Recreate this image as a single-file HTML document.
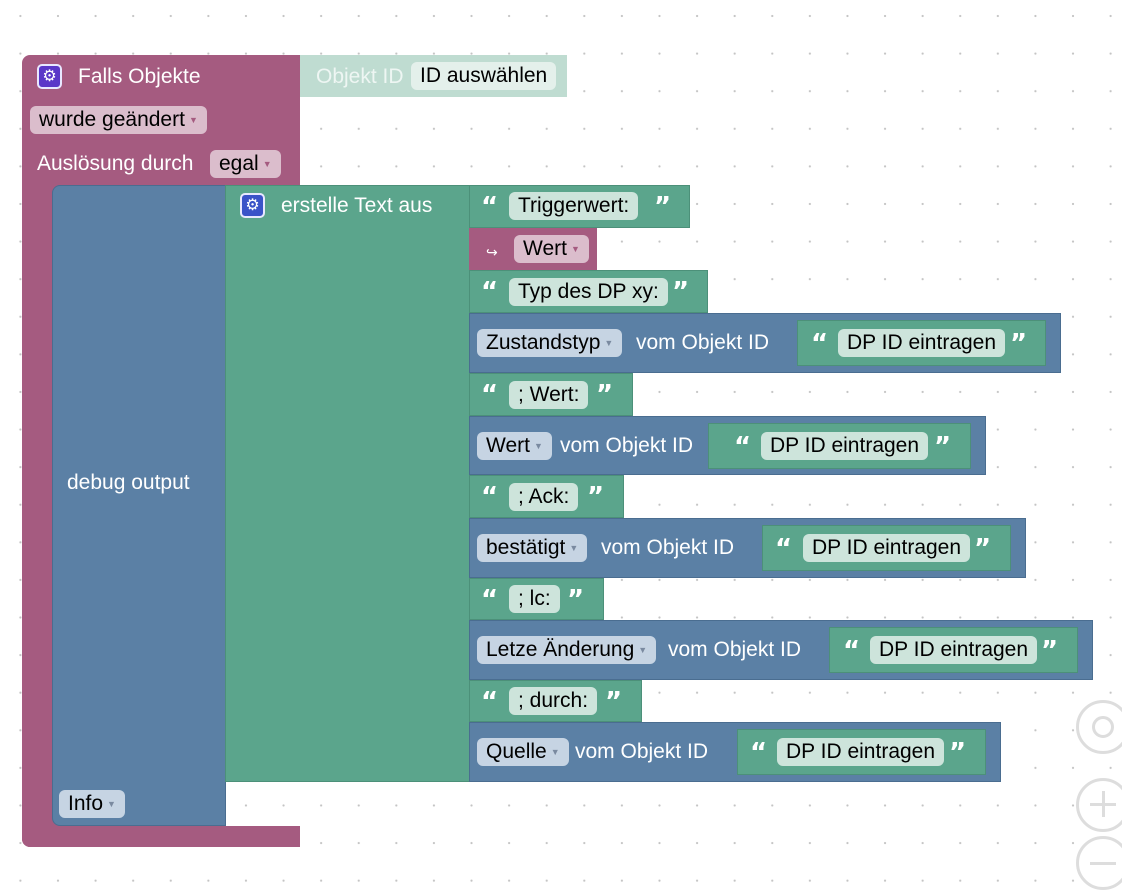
<!DOCTYPE html>
<html><head><meta charset="utf-8"><style>
body{margin:0;width:1122px;height:875px;overflow:hidden;background:#fff;
background-image:radial-gradient(circle,#c4c4c4 0.9px,transparent 1.3px);background-size:37.6px 37.6px;background-position:1.6px -2.8px;
font-family:"Liberation Sans",sans-serif;font-size:21px;position:relative}
.b{position:absolute;box-sizing:border-box}
.p{background:#a55b80}.bl{background:#5b80a5;border:1px solid #4a6d90}.g{background:#5ba58c;border:1px solid #4c9079}
.t{position:absolute;color:#fff;white-space:nowrap;line-height:24px}
.f{position:absolute;height:28px;line-height:28px;border-radius:6px;padding:0 9px;color:#000;white-space:nowrap;box-sizing:border-box}
.fp{background:#dbbdcc}.fg{background:#cde4db}.fb{background:#c6d4e3}
.ar{font-size:9px;color:#7a8aa0;margin-left:4px;vertical-align:middle}
.q{position:absolute;color:#fff;font-weight:bold;font-family:"DejaVu Sans",sans-serif;font-size:26px;line-height:28px;letter-spacing:-2px}
.gear{position:absolute;width:25px;height:25px;border-radius:5px;background:#3a53c8;border:2px solid #e8e8ff;box-sizing:border-box;color:#fff;font-size:16px;text-align:center;line-height:21px}
</style></head><body>
<!-- event block -->
<div class="b p" style="left:22px;top:55px;width:278px;height:130px;border-radius:8px 0 0 0"></div>
<div class="b p" style="left:22px;top:185px;width:45px;height:662px;border-radius:0 0 0 8px"></div>
<div class="b p" style="left:22px;top:826px;width:278px;height:21px;border-radius:0 0 0 8px"></div>
<div class="b p" style="left:52px;top:185px;width:60px;height:10px"></div>
<div class="gear" style="left:37px;top:64px;background:#5a37c8">⚙</div>
<div class="t" style="left:78px;top:65px">Falls Objekte</div>
<div class="f fp" style="left:30px;top:106px">wurde geändert<span class="ar" style="color:#a55b80">▼</span></div>
<div class="t" style="left:37px;top:152px">Auslösung durch</div>
<div class="f fp" style="left:210px;top:150px">egal<span class="ar" style="color:#a55b80">▼</span></div>
<!-- object id -->
<div class="b" style="left:300px;top:55px;width:267px;height:42px;background:#bfdcd1"></div>
<div class="t" style="left:316px;top:65px;color:#eef6f3">Objekt ID</div>
<div class="f" style="left:411px;top:62px;background:#e4f0eb">ID auswählen</div>
<!-- debug -->
<div class="b bl" style="left:52px;top:185px;width:174px;height:641px;border-radius:8px 0 0 8px"></div>
<div class="t" style="left:67px;top:471px">debug output</div>
<div class="f fb" style="left:59px;top:790px">Info<span class="ar">▼</span></div>
<!-- join -->
<div class="b g" style="left:225px;top:185px;width:245px;height:597px"></div>
<div class="gear" style="left:240px;top:193px">⚙</div>
<div class="t" style="left:281px;top:194px">erstelle Text aus</div>

<!-- rows -->
<div class="b g" style="left:469px;top:185px;width:221px;height:43px"></div>
<div class="q" style="left:481px;top:193px">“</div><div class="f fg" style="left:509px;top:192px">Triggerwert:</div><div class="q" style="left:654px;top:193px">”</div>

<div class="b p" style="left:469px;top:228px;width:128px;height:42px"></div>
<div class="t" style="left:486px;top:240px;font-size:14px">↪</div>
<div class="f fp" style="left:514px;top:235px">Wert<span class="ar" style="color:#a55b80">▼</span></div>

<div class="b g" style="left:469px;top:270px;width:239px;height:43px"></div>
<div class="q" style="left:481px;top:278px">“</div><div class="f fg" style="left:509px;top:278px">Typ des DP xy:</div><div class="q" style="left:672px;top:278px">”</div>

<div class="b bl" style="left:469px;top:313px;width:592px;height:60px"></div>
<div class="f fb" style="left:477px;top:329px">Zustandstyp<span class="ar">▼</span></div>
<div class="t" style="left:636px;top:331px">vom Objekt ID</div>
<div class="b g" style="left:797px;top:320px;width:249px;height:46px"></div>
<div class="q" style="left:811px;top:330px">“</div><div class="f fg" style="left:838px;top:329px">DP ID eintragen</div><div class="q" style="left:1010px;top:330px">”</div>

<div class="b g" style="left:469px;top:373px;width:164px;height:43px"></div>
<div class="q" style="left:481px;top:381px">“</div><div class="f fg" style="left:509px;top:381px">; Wert:</div><div class="q" style="left:596px;top:381px">”</div>

<div class="b bl" style="left:469px;top:416px;width:517px;height:59px"></div>
<div class="f fb" style="left:477px;top:432px">Wert<span class="ar">▼</span></div>
<div class="t" style="left:560px;top:434px">vom Objekt ID</div>
<div class="b g" style="left:708px;top:423px;width:263px;height:46px"></div>
<div class="q" style="left:734px;top:433px">“</div><div class="f fg" style="left:761px;top:432px">DP ID eintragen</div><div class="q" style="left:934px;top:433px">”</div>

<div class="b g" style="left:469px;top:475px;width:155px;height:43px"></div>
<div class="q" style="left:481px;top:483px">“</div><div class="f fg" style="left:509px;top:483px">; Ack:</div><div class="q" style="left:587px;top:483px">”</div>

<div class="b bl" style="left:469px;top:518px;width:557px;height:60px"></div>
<div class="f fb" style="left:477px;top:534px">bestätigt<span class="ar">▼</span></div>
<div class="t" style="left:601px;top:536px">vom Objekt ID</div>
<div class="b g" style="left:762px;top:525px;width:249px;height:46px"></div>
<div class="q" style="left:775px;top:535px">“</div><div class="f fg" style="left:803px;top:534px">DP ID eintragen</div><div class="q" style="left:974px;top:535px">”</div>

<div class="b g" style="left:469px;top:578px;width:135px;height:42px"></div>
<div class="q" style="left:481px;top:586px">“</div><div class="f fg" style="left:509px;top:585px">; lc:</div><div class="q" style="left:567px;top:586px">”</div>

<div class="b bl" style="left:469px;top:620px;width:624px;height:60px"></div>
<div class="f fb" style="left:477px;top:636px">Letze Änderung<span class="ar">▼</span></div>
<div class="t" style="left:668px;top:638px">vom Objekt ID</div>
<div class="b g" style="left:829px;top:627px;width:249px;height:46px"></div>
<div class="q" style="left:843px;top:637px">“</div><div class="f fg" style="left:870px;top:636px">DP ID eintragen</div><div class="q" style="left:1041px;top:637px">”</div>

<div class="b g" style="left:469px;top:680px;width:173px;height:42px"></div>
<div class="q" style="left:481px;top:688px">“</div><div class="f fg" style="left:509px;top:687px">; durch:</div><div class="q" style="left:605px;top:688px">”</div>

<div class="b bl" style="left:469px;top:722px;width:532px;height:60px"></div>
<div class="f fb" style="left:477px;top:738px">Quelle<span class="ar">▼</span></div>
<div class="t" style="left:575px;top:740px">vom Objekt ID</div>
<div class="b g" style="left:737px;top:729px;width:249px;height:46px"></div>
<div class="q" style="left:750px;top:739px">“</div><div class="f fg" style="left:777px;top:738px">DP ID eintragen</div><div class="q" style="left:949px;top:739px">”</div>

<!-- zoom controls -->
<div class="b" style="left:1076px;top:700px;width:54px;height:54px;border:3px solid #ddd;border-radius:50%;background:#fff"></div>
<div class="b" style="left:1092px;top:716px;width:22px;height:22px;border:3px solid #ddd;border-radius:50%"></div>
<div class="b" style="left:1076px;top:778px;width:54px;height:54px;border:3px solid #ddd;border-radius:50%;background:#fff"></div>
<div class="b" style="left:1090px;top:803px;width:26px;height:3px;background:#ddd"></div>
<div class="b" style="left:1102px;top:791px;width:3px;height:26px;background:#ddd"></div>
<div class="b" style="left:1076px;top:836px;width:54px;height:54px;border:3px solid #ddd;border-radius:50%;background:#fff"></div>
<div class="b" style="left:1090px;top:862px;width:26px;height:3px;background:#ddd"></div>
</body></html>
